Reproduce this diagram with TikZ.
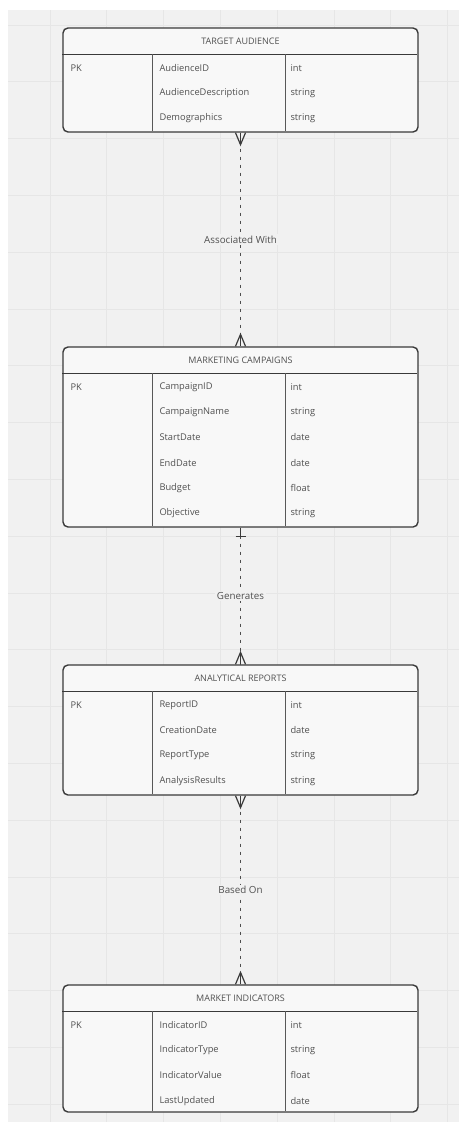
\documentclass[tikz,border=0pt]{standalone}
\usepackage{fontspec}
\setmainfont{Open Sans}
\usetikzlibrary{calc,positioning}
\definecolor{canvas}{HTML}{F1F1F1}
\definecolor{gridgray}{HTML}{E6E6E6}
\definecolor{boxfill}{HTML}{F8F8F8}
\definecolor{edge}{HTML}{3A3A3A}
\definecolor{inkgray}{HTML}{505050}

\begin{document}
\begin{tikzpicture}[x=1pt, y=-1pt,
    tablebox/.style={draw=edge, line width=1.4pt, fill=boxfill, rounded corners=5pt, minimum width=355pt, inner sep=0pt},
    headline/.style={draw=edge, line width=1.4pt},
    divider/.style={draw=edge!85, line width=1.3pt},
    title/.style={font=\fontsize{9}{10}\selectfont, text=inkgray, inner sep=0pt},
    cell/.style={font=\fontsize{9.3}{10}\selectfont, text=inkgray, anchor=west, inner sep=0pt},
    rel/.style={draw=edge!90, line width=1.8pt, dash pattern=on 3.5pt off 4.5pt},
    foot/.style={draw=edge, line width=1.2pt},
    lbl/.style={font=\fontsize{9.8}{10}\selectfont, text=inkgray, fill=canvas, inner sep=1.5pt}]
        \useasboundingbox (0,0) rectangle (459,1122);
        \fill[canvas] (8,10) rectangle (459,1122);
        \foreach \gx in {0,...,7} {
            \draw[gridgray, line width=0.8pt] ({50+56.8*\gx},10) -- ++(0,1112);
        }
        \foreach \gy in {0,...,19} {
            \draw[gridgray, line width=0.8pt] (8,{25+56.8*\gy}) -- ++(451,0);
        }

        % tables
        \node[tablebox, minimum height=104pt] (audience) at (240.5,80) {};
        \node[tablebox, minimum height=180pt] (campaign) at (240.5,437) {};
        \node[tablebox, minimum height=130pt] (report) at (240.5,730) {};
        \node[tablebox, minimum height=127pt] (indicator) at (240.5,1048.5) {};

        \draw[headline] (audience.north west) ++(0,27) -- ++(355,0);
        \draw[divider] (audience.north west) ++(90,27) -- ++(0,77);
        \draw[divider] (audience.north west) ++(223,27) -- ++(0,77);
        \node[title] (audience-t) at ($(audience.north)+(0,14)$) {TARGET AUDIENCE};
        \node[cell] (audience-pk) at ($(audience.north west)+(8,41)$) {PK};
        \foreach \k/\fname/\ftype in {0/AudienceID/int, 1/AudienceDescription/string, 2/Demographics/string} {
            \node[cell] (audience-n\k) at ($(audience.north west)+(97,{41+25*\k})$) {\fname};
            \node[cell] (audience-y\k) at ($(audience.north west)+(228,{41+25*\k})$) {\ftype};
        }

        \draw[headline] (campaign.north west) ++(0,27) -- ++(355,0);
        \draw[divider] (campaign.north west) ++(90,27) -- ++(0,153);
        \draw[divider] (campaign.north west) ++(223,27) -- ++(0,153);
        \node[title] (campaign-t) at ($(campaign.north)+(0,14)$) {MARKETING CAMPAIGNS};
        \node[cell] (campaign-pk) at ($(campaign.north west)+(8,40.5)$) {PK};
        \foreach \k/\fname/\ftype in {0/CampaignID/int, 1/CampaignName/string, 2/StartDate/date, 3/EndDate/date, 4/Budget/float, 5/Objective/string} {
            \node[cell] (campaign-n\k) at ($(campaign.north west)+(97,{40.5+25.3*\k})$) {\fname};
            \node[cell] (campaign-y\k) at ($(campaign.north west)+(228,{40.5+25.3*\k})$) {\ftype};
        }

        \draw[headline] (report.north west) ++(0,27) -- ++(355,0);
        \draw[divider] (report.north west) ++(90,27) -- ++(0,103);
        \draw[divider] (report.north west) ++(223,27) -- ++(0,103);
        \node[title] (report-t) at ($(report.north)+(0,14)$) {ANALYTICAL REPORTS};
        \node[cell] (report-pk) at ($(report.north west)+(8,40.5)$) {PK};
        \foreach \k/\fname/\ftype in {0/ReportID/int, 1/CreationDate/date, 2/ReportType/string, 3/AnalysisResults/string} {
            \node[cell] (report-n\k) at ($(report.north west)+(97,{40.5+25.3*\k})$) {\fname};
            \node[cell] (report-y\k) at ($(report.north west)+(228,{40.5+25.3*\k})$) {\ftype};
        }

        \draw[headline] (indicator.north west) ++(0,27) -- ++(355,0);
        \draw[divider] (indicator.north west) ++(90,27) -- ++(0,100);
        \draw[divider] (indicator.north west) ++(223,27) -- ++(0,100);
        \node[title] (indicator-t) at ($(indicator.north)+(0,14)$) {MARKET INDICATORS};
        \node[cell] (indicator-pk) at ($(indicator.north west)+(8,40.5)$) {PK};
        \foreach \k/\fname/\ftype in {0/IndicatorID/int, 1/IndicatorType/string, 2/IndicatorValue/float, 3/LastUpdated/date} {
            \node[cell] (indicator-n\k) at ($(indicator.north west)+(97,{40.5+25.3*\k})$) {\fname};
            \node[cell] (indicator-y\k) at ($(indicator.north west)+(228,{40.5+25.3*\k})$) {\ftype};
        }

        % relations
        \draw[rel] (audience.south) -- (campaign.north) node[lbl, midway] (rel-a) {Associated With};
        \draw[rel] (campaign.south) -- (report.north) node[lbl, midway] (rel-b) {Generates};
        \draw[rel] (report.south) -- (indicator.north) node[lbl, midway] (rel-c) {Based On};

        % crow's feet and bars
        \foreach \ent in {audience, report} {
            \draw[foot] (\ent.south) ++(-5,0) -- ++(5,12) -- ++(5,-12);
            \draw[foot] (\ent.south) -- ++(0,12);
        }
        \foreach \ent in {campaign, report, indicator} {
            \draw[foot] (\ent.north) ++(-5,0) -- ++(5,-12) -- ++(5,12);
            \draw[foot] (\ent.north) -- ++(0,-12);
        }
        \draw[foot] (campaign.south) ++(-5,9) -- ++(10,0);
        \draw[foot] (campaign.south) -- ++(0,9);
\end{tikzpicture}
\end{document}
